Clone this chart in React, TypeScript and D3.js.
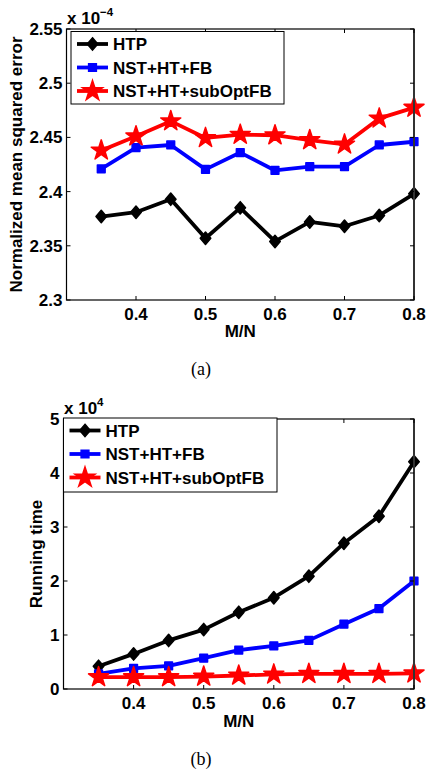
import * as d3 from 'd3';

const mnRatio = [0.35, 0.4, 0.45, 0.5, 0.55, 0.6, 0.65, 0.7, 0.75, 0.8];
const xTicks = [0.4, 0.5, 0.6, 0.7, 0.8];

// panel (a) - normalized MSE, in units of 1e-4
const nmseHTP = [2.377, 2.381, 2.393, 2.357, 2.385, 2.354, 2.372, 2.368, 2.378, 2.398];
const nmseFB = [2.421, 2.4405, 2.443, 2.4205, 2.436, 2.4195, 2.423, 2.423, 2.443, 2.446];
const nmseSub = [2.438, 2.451, 2.465, 2.4495, 2.4525, 2.452, 2.4475, 2.4435, 2.4675, 2.4775];
const nmseTicks = [2.3, 2.35, 2.4, 2.45, 2.5, 2.55];

// panel (b) - running time, in units of 1e4
const timeHTP = [0.42, 0.65, 0.9, 1.1, 1.42, 1.69, 2.09, 2.7, 3.2, 4.21];
const timeFB = [0.28, 0.38, 0.43, 0.57, 0.72, 0.8, 0.9, 1.2, 1.49, 2.0];
const timeSub = [0.22, 0.22, 0.22, 0.23, 0.25, 0.27, 0.28, 0.28, 0.28, 0.29];
const timeTicks = [0, 1, 2, 3, 4, 5];

const seriesNames = ['HTP', 'NST+HT+FB', 'NST+HT+subOptFB'];
const seriesColors = ['#000000', '#0000ff', '#ff0000'];

const FONT = '"Liberation Sans", Arial, sans-serif';
const FS = 17;

// matlab-ish diamond, a bit taller than wide
const diamond = {
  draw(ctx, size) {
    const h = Math.sqrt(size) * 0.62;
    const w = h * 0.85;
    ctx.moveTo(0, -h);
    ctx.lineTo(w, 0);
    ctx.lineTo(0, h);
    ctx.lineTo(-w, 0);
    ctx.closePath();
  }
};
const markerPaths = [
  d3.symbol().type(diamond).size(100)(),
  d3.symbol().type(d3.symbolSquare).size(60)(),
  d3.symbol().type(d3.symbolStar).size(125)()
];

function Panel(props) {
  const { left, right, top, bottom, yDomain, yTicks, series, yLabel, yLabelX, exponent, legend, caption, captionY, xLabelY, fmt } = props;
  const x = d3.scaleLinear().domain([0.3, 0.8]).range([left, right]);
  const y = d3.scaleLinear().domain(yDomain).range([bottom, top]);
  const line = d3.line().x((d, i) => x(mnRatio[i])).y((d) => y(d));
  const tk = 4;

  return (
    <g>
      {/* series lines + markers */}
      {series.map((s, si) => (
        <g key={si}>
          <path d={line(s)} fill="none" stroke={seriesColors[si]} strokeWidth={3.8} strokeLinejoin="round" />
          {s.map((v, i) => (
            <path key={i} d={markerPaths[si]} transform={`translate(${x(mnRatio[i])},${y(v)})`}
              fill={seriesColors[si]} stroke={seriesColors[si]} strokeWidth={1.5} strokeLinejoin="round" />
          ))}
        </g>
      ))}

      {/* box */}
      <rect x={left} y={top} width={right - left} height={bottom - top} fill="none" stroke="#000" strokeWidth={1.2} />
      <line x1={right} x2={right} y1={top} y2={bottom} stroke="#333" strokeWidth={2} />

      {/* ticks */}
      {xTicks.map((t) => (
        <g key={t}>
          <line x1={x(t)} x2={x(t)} y1={bottom} y2={bottom - tk} stroke="#000" />
          <line x1={x(t)} x2={x(t)} y1={top} y2={top + tk} stroke="#000" />
          <text x={x(t)} y={bottom + 20} textAnchor="middle" fontFamily={FONT} fontWeight="bold" fontSize={FS}>{t.toFixed(1)}</text>
        </g>
      ))}
      {yTicks.map((t) => (
        <g key={t}>
          <line x1={left} x2={left + tk} y1={y(t)} y2={y(t)} stroke="#000" />
          <line x1={right} x2={right - tk} y1={y(t)} y2={y(t)} stroke="#000" />
          <text x={left - 4} y={y(t) + 6} textAnchor="end" fontFamily={FONT} fontWeight="bold" fontSize={FS}>{fmt(t)}</text>
        </g>
      ))}

      {/* exponent */}
      <text x={left + 0.5} y={top - 5} fontFamily={FONT} fontWeight="bold" fontSize={FS}>
        x 10
        <tspan dy={-8} fontSize={11.5}>{exponent}</tspan>
      </text>

      {/* axis labels */}
      <text x={(left + right) / 2} y={xLabelY} textAnchor="middle" fontFamily={FONT} fontWeight="bold" fontSize={FS}>M/N</text>
      <text transform={`translate(${yLabelX},${(top + bottom) / 2}) rotate(-90)`} textAnchor="middle"
        fontFamily={FONT} fontWeight="bold" fontSize={FS}>{yLabel}</text>

      {/* legend */}
      <rect x={legend.x} y={legend.y} width={legend.w} height={legend.h} fill="#fff" stroke="#000" strokeWidth={1} />
      {seriesNames.map((n, i) => {
        const ly = legend.y + 12.5 + i * 23.5;
        return (
          <g key={n}>
            <line x1={legend.x + 6} x2={legend.x + 37} y1={ly} y2={ly} stroke={seriesColors[i]} strokeWidth={3.8} />
            <path d={markerPaths[i]} transform={`translate(${legend.x + 21.5},${ly})`} fill={seriesColors[i]} stroke={seriesColors[i]} strokeWidth={1.5} />
            <text x={legend.x + 42} y={ly + 6} fontFamily={FONT} fontWeight="bold" fontSize={FS}>{n}</text>
          </g>
        );
      })}

      <text x={201} y={captionY} textAnchor="middle" fontFamily='"Liberation Serif", "Times New Roman", serif' fontSize={18}>{caption}</text>
    </g>
  );
}

export default function App() {
  return (
    <svg width={427} height={770} style={{ position: 'absolute', left: 0, top: 0, background: '#fff' }}>
      <Panel left={66.5} right={414} top={29} bottom={300} yDomain={[2.3, 2.55]} yTicks={nmseTicks}
        series={[nmseHTP, nmseFB, nmseSub]} yLabel="Normalized mean squared error" yLabelX={22}
        exponent="−4" legend={{ x: 71, y: 31.5, w: 213, h: 72.5 }} caption="(a)" captionY={375} xLabelY={337}
        fmt={(t) => String(+t.toFixed(2))} />
      <Panel left={63.5} right={414} top={419} bottom={689} yDomain={[0, 5]} yTicks={timeTicks}
        series={[timeHTP, timeFB, timeSub]} yLabel="Running time" yLabelX={42}
        exponent="4" legend={{ x: 63.5, y: 418, w: 213.5, h: 74 }} caption="(b)" captionY={765} xLabelY={727}
        fmt={(t) => String(t)} />
    </svg>
  );
}
